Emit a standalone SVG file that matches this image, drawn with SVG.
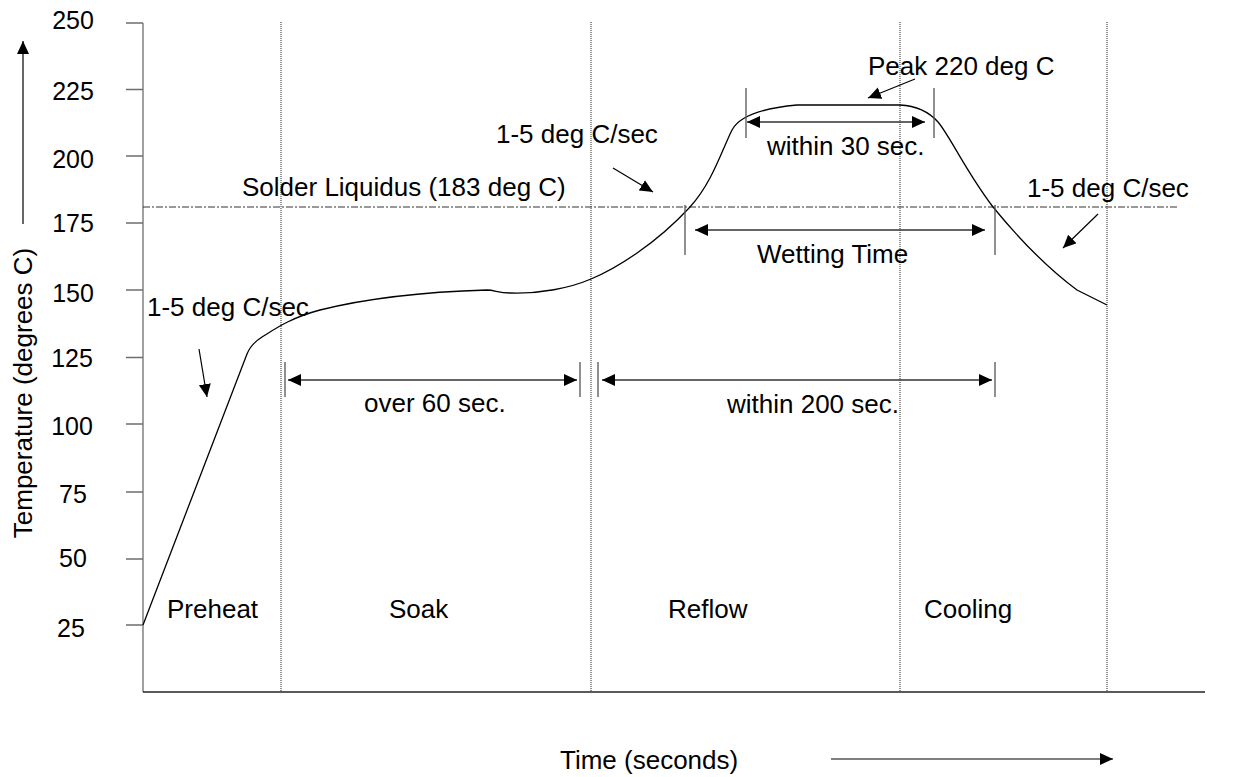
<svg xmlns="http://www.w3.org/2000/svg" width="1253" height="777" viewBox="0 0 1253 777">
  <style>
    text { font-family: "Liberation Sans", Arial, sans-serif; font-size: 26px; fill: #000; }
    .tick-label { font-size: 25px; text-anchor: middle; }
    .axis { stroke: #6e6e6e; stroke-width: 1.3; fill: none; }
    .base { stroke: #222; stroke-width: 1.5; fill: none; }
    .zone { stroke: #222; stroke-width: 1; stroke-dasharray: 1 1; fill: none; }
    .liquidus { stroke: #333; stroke-width: 1; stroke-dasharray: 7 2 2 2; fill: none; }
    .profile { stroke: #000; stroke-width: 1.3; fill: none; }
    .dim-tick { stroke: #555; stroke-width: 1.3; fill: none; }
    .dim { stroke: #333; stroke-width: 1.6; fill: none; marker-start: url(#head); marker-end: url(#head); }
    .pointer { stroke: #000; stroke-width: 1.2; fill: none; marker-end: url(#head); }
  </style>
  <defs>
    <marker id="head" markerUnits="userSpaceOnUse" markerWidth="14" markerHeight="13" refX="13" refY="6" orient="auto-start-reverse" viewBox="0 0 14 13">
      <path d="M0,0 L13,6 L0,12 Z" fill="#000"/>
    </marker>
  </defs>

  <!-- temperature axis with ticks -->
  <g id="y-axis">
    <line class="axis" x1="143" y1="23" x2="143" y2="692"/>
    <path class="axis" d="M126,23H143 M126,89.5H143 M126,156H143 M126,223H143 M126,290H143 M126,357.5H143 M126,424H143 M126,492H143 M126,559H143 M126,625H143"/>
    <text class="tick-label" x="73" y="29">250</text>
    <text class="tick-label" x="73" y="100">225</text>
    <text class="tick-label" x="73" y="168">200</text>
    <text class="tick-label" x="73" y="232">175</text>
    <text class="tick-label" x="73" y="302">150</text>
    <text class="tick-label" x="72" y="367">125</text>
    <text class="tick-label" x="72" y="435">100</text>
    <text class="tick-label" x="73" y="503">75</text>
    <text class="tick-label" x="73" y="567">50</text>
    <text class="tick-label" x="71" y="637">25</text>
    <text transform="translate(32,393) rotate(-90)" text-anchor="middle">Temperature (degrees C)</text>
    <line class="pointer" x1="23" y1="224" x2="23" y2="41"/>
  </g>

  <!-- time axis -->
  <g id="x-axis">
    <line class="base" x1="143" y1="692" x2="1205" y2="692"/>
    <text x="560" y="769">Time (seconds)</text>
    <line class="pointer" x1="831" y1="759" x2="1113" y2="759"/>
  </g>

  <!-- zone boundaries and liquidus level -->
  <g id="zones">
    <line class="zone" x1="281" y1="22" x2="281" y2="692"/>
    <line class="zone" x1="591" y1="22" x2="591" y2="692"/>
    <line class="zone" x1="900" y1="22" x2="900" y2="692"/>
    <line class="zone" x1="1107" y1="22" x2="1107" y2="692"/>
    <line class="liquidus" x1="143" y1="207" x2="1177" y2="207"/>
    <text x="242" y="196">Solder Liquidus (183 deg C)</text>
    <text x="167" y="618">Preheat</text>
    <text x="389" y="618">Soak</text>
    <text x="668" y="618">Reflow</text>
    <text x="924" y="618">Cooling</text>
  </g>

  <!-- reflow temperature profile -->
  <g id="profile">
    <path class="profile" d="M143,625 L247,354 Q251,344 262,337 C275,329 290,318 320,310 C360,300 420,292 487,290 C495,290 498,293 510,293 C540,294 570,288 591,279 C615,269 655,245 690,207 C712,183 722,150 732,130 C740,115 765,108 797,105 L900,105 C918,106 930,113 938,122 C950,136 965,170 993,207 C1020,240 1050,270 1077,290 L1107,305"/>
  </g>

  <!-- slope and peak call-outs -->
  <g id="connectors">
    <line class="pointer" x1="199" y1="349" x2="207" y2="397"/>
    <line class="pointer" x1="613" y1="168" x2="653" y2="192"/>
    <line class="pointer" x1="1098" y1="214" x2="1063" y2="248"/>
    <line class="pointer" x1="915" y1="79" x2="868" y2="98"/>
  </g>
  <g id="rate-labels">
    <text x="147" y="316">1-5 deg C/sec</text>
    <text x="496" y="143">1-5 deg C/sec</text>
    <text x="1027" y="197">1-5 deg C/sec</text>
    <text x="868" y="75">Peak 220 deg C</text>
  </g>

  <!-- time span dimensions -->
  <g id="dim-30">
    <path class="dim-tick" d="M746,88V138 M934,88V138"/>
    <line class="dim" x1="747" y1="122" x2="925" y2="122"/>
    <text x="767" y="155">within 30 sec.</text>
  </g>
  <g id="dim-wetting">
    <path class="dim-tick" d="M685,205V255 M995,205V255"/>
    <line class="dim" x1="695" y1="230" x2="985" y2="230"/>
    <text x="757" y="263">Wetting Time</text>
  </g>
  <g id="dim-60">
    <path class="dim-tick" d="M285,362V397 M580,362V397"/>
    <line class="dim" x1="288" y1="380" x2="577" y2="380"/>
    <text x="364" y="412">over 60 sec.</text>
  </g>
  <g id="dim-200">
    <path class="dim-tick" d="M598,362V397 M995,362V397"/>
    <line class="dim" x1="602" y1="380" x2="992" y2="380"/>
    <text x="727" y="413">within 200 sec.</text>
  </g>
</svg>
